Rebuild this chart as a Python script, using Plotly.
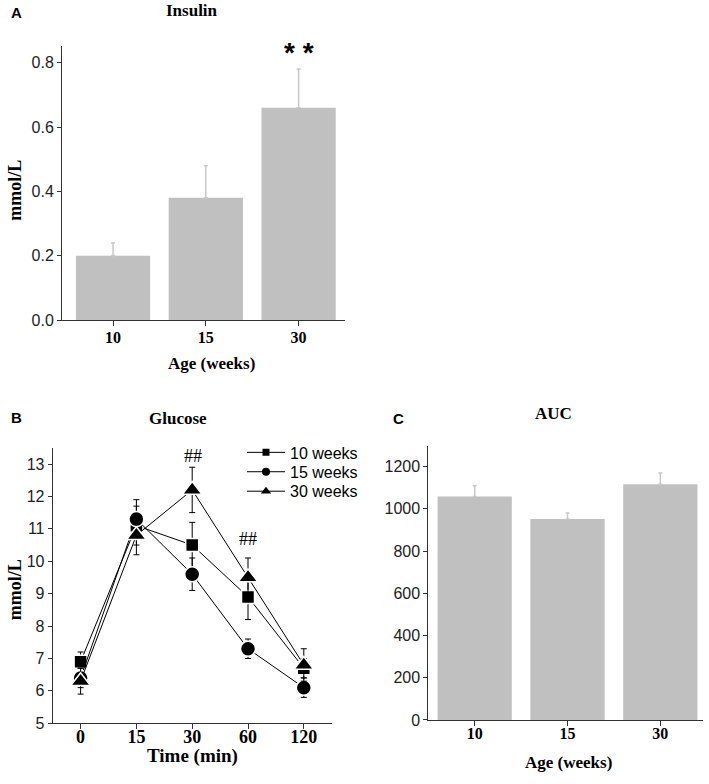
import plotly.graph_objects as go

W, H = 709, 784

# ---------------- data ----------------
ages = ["10", "15", "30"]
insulin_mean = [0.20, 0.38, 0.66]
insulin_sem = [0.04, 0.10, 0.12]

times = ["0", "15", "30", "60", "120"]
glucose_10 = [6.9, 11.1, 10.5, 8.9, 6.7]
glucose_10_sem = [0.3, 0.6, 0.7, 0.7, 0.3]
glucose_15 = [6.4, 11.3, 9.6, 7.3, 6.1]
glucose_15_sem = [0.3, 0.6, 0.5, 0.3, 0.3]
glucose_30 = [6.3, 10.8, 12.2, 9.5, 6.8]
glucose_30_sem = [0.4, 0.6, 0.7, 0.6, 0.5]

auc_mean = [1058, 952, 1117]
auc_sem = [52, 28, 53]

# ---------------- helpers ----------------
SERIF = "Liberation Serif"
SANS = "Liberation Sans"
AX = "#333333"
BAR = "#c0c0c0"
ERR = "#c8c8c8"


def px(x):
    return x / W


def py(y):
    return 1 - y / H


fig = go.Figure()

# Panel A: insulin bars
fig.add_trace(go.Bar(
    x=ages, y=insulin_mean, width=0.8, marker=dict(color=BAR, line=dict(width=0)),
    error_y=dict(type="data", symmetric=False, array=insulin_sem,
                 arrayminus=[0] * len(insulin_sem), color=ERR, thickness=1.5, width=2),
    xaxis="x", yaxis="y", showlegend=False,
))

# Panel B: glucose curves
series = [
    ("10 weeks", glucose_10, glucose_10_sem, "square", 13, 7, "legend"),
    ("15 weeks", glucose_15, glucose_15_sem, "circle", 15, 8, "legend2"),
    ("30 weeks", glucose_30, glucose_30_sem, "triangle-up", 17, 9, "legend3"),
]
for name, vals, sem, sym, size, lsize, lg in series:
    fig.add_trace(go.Scatter(
        x=times, y=vals, name=name, mode="lines+markers",
        line=dict(color="black", width=1),
        marker=dict(symbol=sym, size=size, color="black", line=dict(color="white", width=1.5)),
        error_y=dict(type="data", array=sem, color="black", thickness=1, width=3),
        xaxis="x2", yaxis="y2", showlegend=False,
    ))
    # legend-only entry with a small symbol, as in the reference key
    fig.add_trace(go.Scatter(
        x=[None], y=[None], name=name, mode="lines+markers",
        line=dict(color="black", width=1),
        marker=dict(symbol=sym, size=lsize, color="black"),
        xaxis="x2", yaxis="y2", legend=lg, showlegend=True,
    ))

# Panel C: AUC bars
fig.add_trace(go.Bar(
    x=ages, y=auc_mean, width=0.8, marker=dict(color=BAR, line=dict(width=0)),
    error_y=dict(type="data", symmetric=False, array=auc_sem,
                 arrayminus=[0] * len(auc_sem), color=ERR, thickness=1.5, width=2),
    xaxis="x3", yaxis="y3", showlegend=False,
))

common_x = dict(type="category", showline=True, linecolor=AX, linewidth=1,
                ticks="outside", ticklen=5, tickcolor=AX, showgrid=False, zeroline=False,
                fixedrange=True)
common_y = dict(showline=True, linecolor=AX, linewidth=1, ticks="outside", ticklen=4,
                tickcolor=AX, showgrid=False, zeroline=False,
                tickfont=dict(family=SANS, size=16, color="#222222"))


def legend_at(yc):
    return dict(x=px(242), y=py(yc), xanchor="left", yanchor="middle",
                font=dict(family=SANS, size=16, color="black"), bgcolor="rgba(0,0,0,0)",
                itemsizing="trace", itemwidth=38, borderwidth=0)


fig.update_layout(
    width=W, height=H, margin=dict(l=0, r=0, t=0, b=0),
    paper_bgcolor="white", plot_bgcolor="white",
    xaxis=dict(common_x, domain=[px(62), px(345)], anchor="y", range=[-0.55, 2.5],
               ticklabelstandoff=-2,
               tickfont=dict(family=SERIF, size=16, color="black", weight="bold")),
    yaxis=dict(common_y, domain=[py(324), py(47)], anchor="x", range=[0, 0.85],
               dtick=0.2, tickformat=".1f"),
    xaxis2=dict(common_x, domain=[px(52.7), px(331.7)], anchor="y2", range=[-0.5, 4.5],
                ticklabelstandoff=-8,
                tickfont=dict(family=SERIF, size=18, color="black", weight="bold")),
    yaxis2=dict(common_y, domain=[py(731.7), py(453)], anchor="x2", range=[5, 13.5],
                dtick=1),
    xaxis3=dict(common_x, domain=[px(428.3), px(703)], anchor="y3", range=[-0.5, 2.46],
                ticklabelstandoff=-6,
                tickfont=dict(family=SERIF, size=16, color="black", weight="bold")),
    yaxis3=dict(common_y, domain=[py(728.3), py(450.7)], anchor="x3", range=[0, 1300],
                dtick=200),
    legend=legend_at(457.7),
    legend2=legend_at(477.3),
    legend3=legend_at(497),
)

ann = []


def text(x, y, s, size, family=SERIF, bold=True, angle=0):
    ann.append(dict(x=x, y=y, xref="paper", yref="paper", text=s, showarrow=False,
                    textangle=angle, xanchor="center", yanchor="middle",
                    font=dict(family=family, size=size, color="black",
                              weight="bold" if bold else "normal")))


# panel letters
text(px(16), py(13), "A", 15, family=SANS)
text(px(16), py(422), "B", 15, family=SANS)
text(px(398), py(423), "C", 15, family=SANS)
# titles
text(px(192), py(11), "Insulin", 17)
text(px(178), py(423), "Glucose", 17)
text(px(553), py(418), "AUC", 17)
# axis titles
text(px(15), py(193), "mmol/L", 18, angle=-90)
text(px(15), py(597), "mmol/L", 18, angle=-90)
text(px(211), py(368), "Age (weeks)", 17)
text(px(192), py(765), "Time (min)", 19)
text(px(568), py(771), "Age (weeks)", 17)
# significance marks
text(px(299), py(53), "* *", 28, family=SANS)
text(px(193), py(461), "##", 18, bold=False)
text(px(248), py(545), "##", 18, bold=False)

fig.update_layout(annotations=ann)

page_fix = (
    "document.documentElement.style.margin='0';"
    "document.documentElement.style.overflow='hidden';"
    "document.body.style.margin='0';"
    "document.body.style.padding='0';"
    "document.body.style.overflow='hidden';"
    "document.body.style.height='784px';"
    "var g=document.getElementsByClassName('plotly-graph-div')[0];"
    "g.parentElement.style.height='784px';"
    "g.parentElement.style.overflow='hidden';"
    "g.parentElement.style.lineHeight='0';"
)
fig.write_html("out.html", config={"displayModeBar": False}, post_script=page_fix)
